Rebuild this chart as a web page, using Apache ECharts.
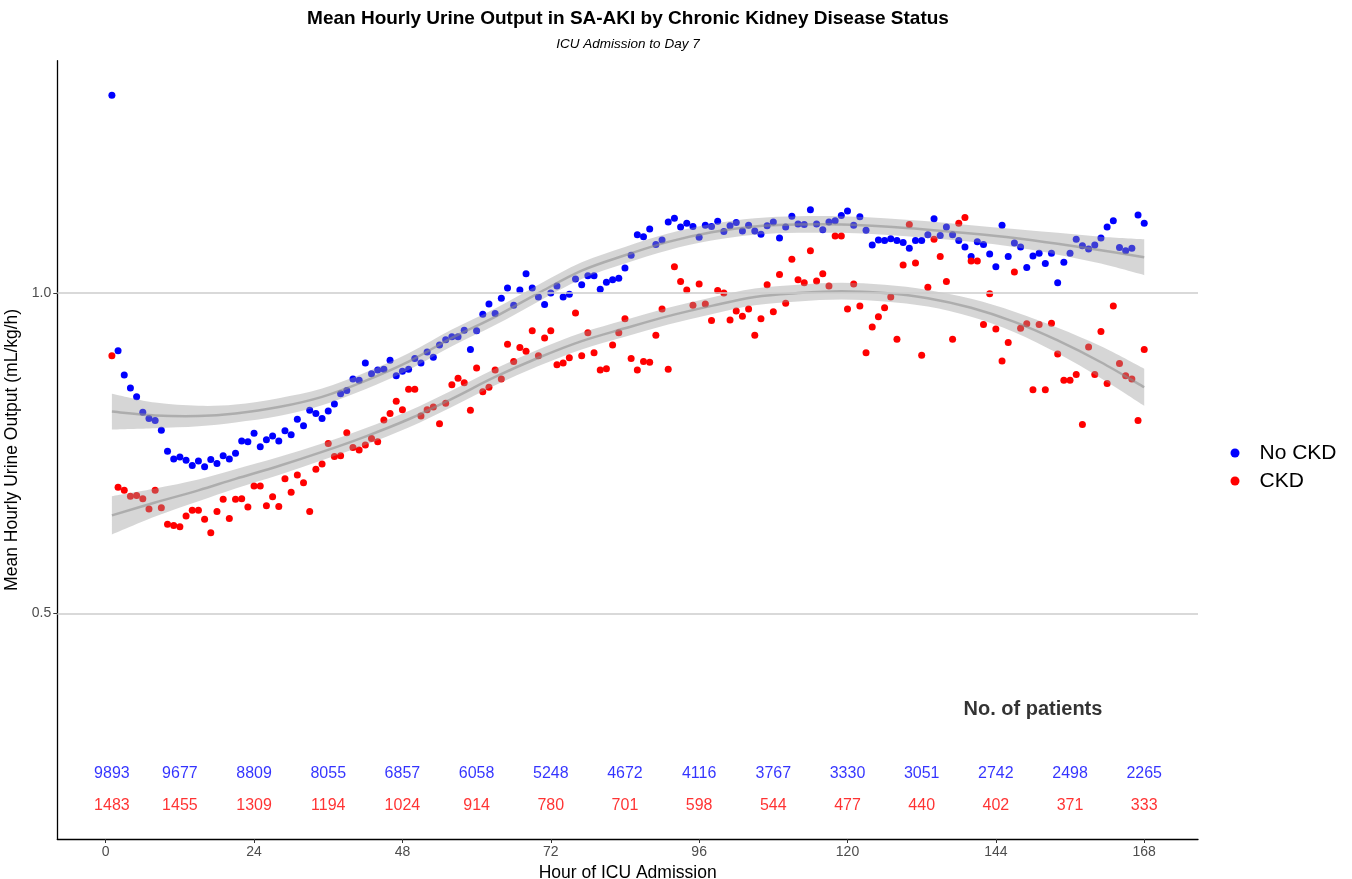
<!DOCTYPE html>
<html>
<head>
<meta charset="utf-8">
<script src="https://cdn.jsdelivr.net/npm/echarts@6/dist/echarts.min.js"></script>
<style>html,body{margin:0;padding:0;background:#fff;}#chart{width:1352px;height:879px;}</style>
</head>
<body>
<div id="chart"></div>
<script>
// Hourly means, hours 1..168
const noCkdValues = [1.309,0.910,0.872,0.852,0.838,0.814,0.804,0.801,0.786,0.753,0.741,0.744,0.739,0.731,0.738,0.729,0.740,0.734,0.746,0.741,
0.750,0.769,0.768,0.781,0.760,0.771,0.777,0.769,0.785,0.779,0.803,0.793,0.817,0.812,0.804,0.816,0.827,0.843,0.848,0.866,
0.864,0.891,0.874,0.880,0.881,0.895,0.871,0.878,0.881,0.898,0.891,0.908,0.900,0.919,0.927,0.932,0.932,0.942,0.912,0.941,
0.967,0.983,0.968,0.992,1.008,0.981,1.005,1.030,1.008,0.994,0.982,1.000,1.011,0.994,0.998,1.022,1.013,1.027,1.027,1.006,
1.017,1.021,1.023,1.039,1.059,1.091,1.088,1.100,1.076,1.083,1.111,1.117,1.103,1.109,1.104,1.087,1.106,1.104,1.112,1.096,
1.105,1.110,1.097,1.106,1.097,1.092,1.105,1.111,1.086,1.103,1.120,1.108,1.107,1.130,1.108,1.099,1.111,1.113,1.121,1.128,
1.106,1.119,1.098,1.075,1.083,1.082,1.085,1.082,1.079,1.070,1.082,1.082,1.091,1.116,1.090,1.103,1.091,1.082,1.072,1.057,
1.080,1.076,1.061,1.041,1.106,1.057,1.078,1.072,1.040,1.058,1.062,1.046,1.062,1.016,1.048,1.062,1.084,1.074,1.069,1.075,
1.086,1.103,1.113,1.071,1.066,1.070,1.122,1.109];
const ckdValues = [0.902,0.697,0.692,0.683,0.684,0.679,0.663,0.692,0.665,0.639,0.637,0.635,0.652,0.661,0.661,0.647,0.626,0.659,0.678,0.648,
0.678,0.679,0.666,0.699,0.699,0.668,0.682,0.667,0.710,0.689,0.716,0.704,0.659,0.725,0.733,0.765,0.745,0.746,0.782,0.759,
0.755,0.763,0.773,0.768,0.802,0.812,0.831,0.818,0.850,0.850,0.808,0.818,0.822,0.796,0.828,0.857,0.867,0.860,0.817,0.883,
0.846,0.853,0.880,0.866,0.920,0.893,0.915,0.909,0.941,0.902,0.930,0.941,0.888,0.891,0.899,0.969,0.902,0.938,0.907,0.880,
0.882,0.919,0.938,0.960,0.898,0.880,0.893,0.892,0.934,0.975,0.881,1.041,1.018,1.005,0.981,1.014,0.983,0.957,1.004,1.000,
0.958,0.972,0.964,0.975,0.934,0.960,1.013,0.971,1.029,0.984,1.053,1.021,1.016,1.066,1.019,1.030,1.011,1.089,1.089,0.975,
1.014,0.980,0.907,0.947,0.963,0.977,0.994,0.928,1.044,1.107,1.047,0.903,1.009,1.084,1.057,1.018,0.928,1.109,1.118,1.050,
1.050,0.951,0.999,0.944,0.894,0.923,1.033,0.945,0.952,0.849,0.951,0.849,0.953,0.905,0.864,0.864,0.873,0.795,0.916,0.873,
0.940,0.859,0.980,0.890,0.871,0.866,0.801,0.912];

// Smoothed fit and half-width of its band
const fitHours = [1,8,15,21,28,35,42,49,56,63,70,77,84,91,98,105,112,119,126,133,140,147,154,161,168];
const noCkdFit = [0.815,0.809,0.808,0.812,0.822,0.838,0.863,0.893,0.930,0.963,1.000,1.035,1.059,1.080,1.095,1.104,1.107,1.107,1.104,1.099,1.093,1.086,1.077,1.067,1.056];
const noCkdHalf = [0.028,0.020,0.016,0.014,0.014,0.013,0.013,0.013,0.013,0.013,0.013,0.013,0.013,0.013,0.013,0.013,0.013,0.013,0.013,0.013,0.013,0.014,0.017,0.021,0.028];
const ckdFit = [0.653,0.673,0.692,0.710,0.730,0.752,0.776,0.803,0.835,0.869,0.899,0.925,0.945,0.964,0.980,0.994,1.000,1.003,1.000,0.992,0.977,0.955,0.926,0.892,0.853];
const ckdHalf = [0.030,0.022,0.017,0.015,0.014,0.013,0.013,0.013,0.013,0.013,0.013,0.013,0.013,0.013,0.013,0.013,0.013,0.013,0.013,0.013,0.014,0.016,0.020,0.025,0.029];

// Patient counts
const countHours = [1,12,24,36,48,60,72,84,96,108,120,132,144,156,168];
const noCkdCounts = [9893,9677,8809,8055,6857,6058,5248,4672,4116,3767,3330,3051,2742,2498,2265];
const ckdCounts = [1483,1455,1309,1194,1024,914,780,701,598,544,477,440,402,371,333];

const xTicks = [0,24,48,72,96,120,144,168];
const yTicks = [0.5,1.0];

const BLUE = '#0000ff', RED = '#ff0000';
const FONT = '"Liberation Sans", Arial, sans-serif';

const pts = vals => vals.map((v,i)=>[i+1, v]);

// smooth path through pixel points (Catmull-Rom as cubic Bezier)
function curvePath(p, start) {
  let s = start ? ('M ' + p[0][0] + ' ' + p[0][1]) : '';
  const n = p.length;
  for (let i = 0; i < n - 1; i++) {
    const p0 = p[Math.max(i-1,0)], p1 = p[i], p2 = p[i+1], p3 = p[Math.min(i+2,n-1)];
    const c1x = p1[0] + (p2[0]-p0[0])/6, c1y = p1[1] + (p2[1]-p0[1])/6;
    const c2x = p2[0] - (p3[0]-p1[0])/6, c2y = p2[1] - (p3[1]-p1[1])/6;
    s += ' C ' + c1x + ' ' + c1y + ' ' + c2x + ' ' + c2y + ' ' + p2[0] + ' ' + p2[1];
  }
  return s;
}
function bandSeries(fit, half) {
  return {type:'custom', silent:true, z:3, data:[[fitHours[0], fit[0]]],
    renderItem: function (params, api) {
      const up = fitHours.map((h,i)=>api.coord([h, fit[i]+half[i]]));
      const lo = fitHours.map((h,i)=>api.coord([h, fit[i]-half[i]])).reverse();
      const mid = fitHours.map((h,i)=>api.coord([h, fit[i]]));
      const band = curvePath(up, true) + ' L ' + lo[0][0] + ' ' + lo[0][1] + curvePath(lo, false) + ' Z';
      return {type:'group', children:[
        {type:'path', shape:{pathData: band}, style:{fill:'rgba(153,153,153,0.4)', stroke:null}},
        {type:'path', shape:{pathData: curvePath(mid, true)}, style:{fill:null, stroke:'rgba(140,140,140,0.55)', lineWidth:2.5}}
      ]};
    }};
}
function countSeries(hrs, counts, yv, color) {
  return {type:'scatter', symbolSize:0, silent:true, z:5,
    data: hrs.map((h,i)=>[h, yv, counts[i]]),
    label:{show:true, position:'inside', formatter:p=>String(p.data[2]), color:color, fontSize:16, fontFamily:FONT}};
}

const chart = echarts.init(document.getElementById('chart'), null, {renderer:'canvas'});
chart.setOption({
  animation:false,
  backgroundColor:'#ffffff',
  grid:{left:57.3, right:154, top:60.7, bottom:40, outerBoundsMode:'none'},
  graphic:[
    {type:'text', x:628, y:19, style:{text:'Mean Hourly Urine Output in SA-AKI by Chronic Kidney Disease Status', font:'bold 19px '+FONT, fill:'#000', textAlign:'center', textVerticalAlign:'middle'}},
    {type:'text', x:628, y:44, style:{text:'ICU Admission to Day 7', font:'italic 13.5px '+FONT, fill:'#000', textAlign:'center', textVerticalAlign:'middle'}}
  ],
  legend:{orient:'vertical', left:1225.5, top:437.5, icon:'circle', itemWidth:9, itemHeight:9, itemGap:7,
    data:['No CKD','CKD'], textStyle:{fontSize:21, fontFamily:FONT, color:'#000', padding:[0,0,0,15]}},
  xAxis:{type:'value', min:-7.83, max:176.7,
    name:'Hour of ICU Admission', nameLocation:'middle', nameGap:24,
    nameTextStyle:{fontSize:17.5, fontFamily:FONT, color:'#000'},
    axisLine:{show:true, onZero:false, lineStyle:{color:'#000', width:1.3}},
    axisTick:{show:true, customValues:xTicks, length:4, lineStyle:{color:'#333'}},
    axisLabel:{customValues:xTicks, fontSize:14, fontFamily:FONT, color:'#4d4d4d', margin:6},
    splitLine:{show:false}},
  yAxis:{type:'value', min:0.1477, max:1.3628,
    name:'Mean Hourly Urine Output (mL/kg/h)', nameLocation:'middle', nameGap:30, nameRotate:90,
    nameTextStyle:{fontSize:17.5, fontFamily:FONT, color:'#000'},
    axisLine:{show:true, onZero:false, lineStyle:{color:'#000', width:1.3}},
    axisTick:{show:true, customValues:yTicks, length:4, lineStyle:{color:'#333'}},
    axisLabel:{customValues:yTicks, formatter:v=>v.toFixed(1), fontSize:14, fontFamily:FONT, color:'#4d4d4d', margin:6},
    splitLine:{show:false}},
  series:[
    {type:'line', name:'grid', data:[], silent:true, z:1,
     markLine:{silent:true, symbol:'none', label:{show:false}, animation:false,
       lineStyle:{color:'#cccccc', width:1.5, type:'solid'},
       data: yTicks.map(v=>({yAxis:v}))}},
    {type:'scatter', name:'No CKD', data:pts(noCkdValues), symbolSize:7, itemStyle:{color:BLUE, opacity:1}, z:2},
    {type:'scatter', name:'CKD', data:pts(ckdValues), symbolSize:7, itemStyle:{color:RED, opacity:1}, z:2},
    bandSeries(noCkdFit, noCkdHalf),
    bandSeries(ckdFit, ckdHalf),
    countSeries(countHours, noCkdCounts, 0.25, BLUE),
    countSeries(countHours, ckdCounts, 0.20, RED),
    {type:'scatter', symbolSize:0, silent:true, z:5, data:[[150, 0.35]],
     label:{show:true, position:'inside', formatter:'No. of patients', fontSize:20, fontWeight:'bold', color:'#000', fontFamily:FONT}}
  ]
});
</script>
</body>
</html>
